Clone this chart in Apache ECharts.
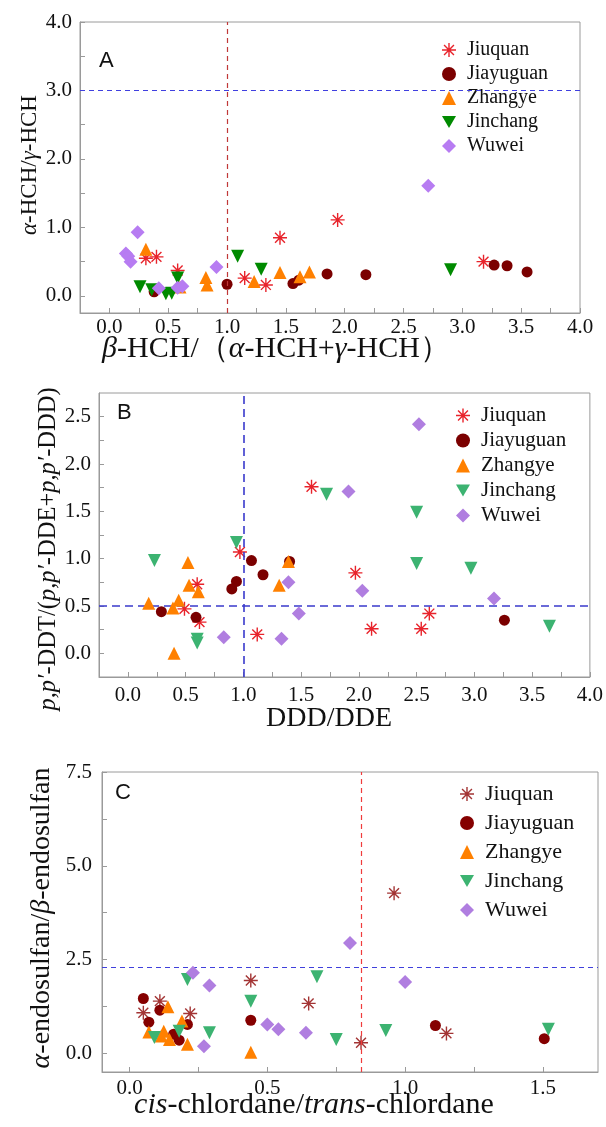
<!DOCTYPE html>
<html><head><meta charset="utf-8">
<script src="https://cdn.jsdelivr.net/npm/echarts@6/dist/echarts.min.js"></script>
<style>html,body{margin:0;padding:0;background:#fff}#c{width:606px;height:1127px}</style>
</head><body><div id="c"></div>
<script>
// ---------- DATA ----------
const siteNames = ['Jiuquan','Jiayuguan','Zhangye','Jinchang','Wuwei'];

// Panel A: x = β-HCH/(α-HCH+γ-HCH), y = α-HCH/γ-HCH
const jiuquanA   = [[0.31,0.55],[0.40,0.57],[0.58,0.37],[1.15,0.26],[1.33,0.16],[1.45,0.85],[1.94,1.11],[3.18,0.50]];
const jiayuguanA = [[0.38,0.06],[1.00,0.17],[1.56,0.18],[1.61,0.23],[1.85,0.32],[2.18,0.31],[3.27,0.45],[3.38,0.44],[3.55,0.35]];
const zhangyeA   = [[0.31,0.68],[0.60,0.13],[0.82,0.27],[0.83,0.16],[1.23,0.21],[1.45,0.34],[1.62,0.28],[1.70,0.35]];
const jinchangA  = [[0.26,0.135],[0.36,0.09],[0.48,0.03],[0.53,0.04],[0.58,0.26],[1.09,0.58],[1.29,0.39],[2.90,0.38]];
const wuweiA     = [[0.24,0.93],[0.14,0.62],[0.16,0.58],[0.18,0.50],[0.42,0.11],[0.58,0.12],[0.62,0.14],[0.91,0.42],[2.71,1.61]];

// Panel B: x = DDD/DDE, y = p,p'-DDT/(p,p'-DDE+p,p'-DDD)
const jiuquanB   = [[0.49,0.47],[0.60,0.73],[0.62,0.33],[0.97,1.07],[1.12,0.20],[1.59,1.76],[1.97,0.85],[2.11,0.26],[2.54,0.26],[2.61,0.42]];
const jiayuguanB = [[0.29,0.44],[0.59,0.38],[0.90,0.68],[0.94,0.76],[1.07,0.98],[1.17,0.83],[1.40,0.97],[3.26,0.35]];
const zhangyeB   = [[0.18,0.53],[0.39,0.48],[0.44,0.56],[0.40,0.00],[0.52,0.96],[0.53,0.72],[0.61,0.65],[1.31,0.72],[1.39,0.97]];
const jinchangB  = [[0.23,0.98],[0.60,0.15],[0.60,0.11],[0.94,1.17],[1.72,1.68],[2.50,1.49],[2.50,0.95],[2.97,0.90],[3.65,0.285]];
const wuweiB     = [[0.83,0.17],[1.33,0.155],[1.39,0.75],[1.48,0.42],[1.91,1.71],[2.03,0.66],[2.52,2.42],[3.17,0.58]];

// Panel C: x = cis-chlordane/trans-chlordane, y = α-endosulfan/β-endosulfan
const jiuquanC   = [[0.05,1.08],[0.11,1.39],[0.22,1.06],[0.44,1.94],[0.65,1.33],[0.84,0.28],[0.96,4.27],[1.15,0.53]];
const jiayuguanC = [[0.05,1.46],[0.07,0.83],[0.11,1.15],[0.16,0.51],[0.18,0.35],[0.21,0.77],[0.44,0.88],[1.11,0.74],[1.505,0.39]];
const zhangyeC   = [[0.07,0.57],[0.115,0.46],[0.124,0.59],[0.139,1.24],[0.145,0.37],[0.19,0.86],[0.21,0.24],[0.44,0.03]];
const jinchangC  = [[0.09,0.42],[0.18,0.59],[0.21,1.97],[0.29,0.55],[0.44,1.39],[0.68,2.04],[0.75,0.37],[0.93,0.61],[1.52,0.64]];
const wuweiC     = [[0.23,2.15],[0.27,0.19],[0.29,1.81],[0.50,0.77],[0.54,0.64],[0.64,0.55],[0.80,2.94],[1.00,1.90]];

// reference (threshold) lines
const refLineA = {x: 1.0, y: 3.0};
const refLineB = {x: 1.0, y: 0.5};
const refLineC = {x: 0.84, y: 2.3};

// axis ticks / labels
const xLabelsAB = [0,0.5,1,1.5,2,2.5,3,3.5,4];
const xTicksAB  = [0,0.25,0.5,0.75,1,1.25,1.5,1.75,2,2.25,2.5,2.75,3,3.25,3.5,3.75,4];
const yLabelsA  = [0,1,2,3,4];
const yTicksA   = [0,0.5,1,1.5,2,2.5,3,3.5,4];
const yLabelsB  = [0,0.5,1,1.5,2,2.5];
const yTicksB   = [0,0.25,0.5,0.75,1,1.25,1.5,1.75,2,2.25,2.5];
const xLabelsC  = [0,0.5,1,1.5];
const xTicksC   = [0,0.25,0.5,0.75,1,1.25,1.5];
const yLabelsC  = [0,2.5,5,7.5];
const yTicksC   = [0,1.25,2.5,3.75,5,6.25,7.5];

// ---------- STYLE ----------
const SERIF = '"Liberation Serif","Times New Roman",serif';
function starPath(){
  let p=''; const L=10,w=1.0;
  for (const a of [0,45,90,135]){
    const r=a*Math.PI/180,c=Math.cos(r),s=Math.sin(r);
    const pts=[[-L,-w],[L,-w],[L,w],[-L,w]].map(([x,y])=>[x*c-y*s,x*s+y*c]);
    p+='M'+pts.map(q=>q[0].toFixed(2)+' '+q[1].toFixed(2)).join(' L')+' Z ';
  }
  p+='M-2 -2 L2 -2 L2 2 L-2 2 Z';
  return 'path://'+p;
}
const STAR = starPath();
const INV_TRI = 'path://M0 0 L10 0 L5 8.66 Z';
const symbols = [STAR,'circle','triangle',INV_TRI,'diamond'];
const sizes = [14,11,13,13,14];
const colorsA = ['#e8232b','#7b0000','#ff8000','#008a00','#b77cf2'];
const colorsB = ['#e8232b','#7b0000','#ff8000','#3cb371','#b07ee0'];
const colorsC = ['#a33434','#850000','#ff8000','#3cb371','#b07ee0'];

const panels = [
  {id:'A', data:[jiuquanA,jiayuguanA,zhangyeA,jinchangA,wuweiA], colors:colorsA, ref:refLineA,
   vColor:'#c03838', hColor:'#4040e0', lw:1.2, dash:[5,4]},
  {id:'B', data:[jiuquanB,jiayuguanB,zhangyeB,jinchangB,wuweiB], colors:colorsB, ref:refLineB,
   vColor:'#3a3acc', hColor:'#3a3acc', lw:1.6, dash:[8,5]},
  {id:'C', data:[jiuquanC,jiayuguanC,zhangyeC,jinchangC,wuweiC], colors:colorsC, ref:refLineC,
   vColor:'#f03c3c', hColor:'#4040dc', lw:1.2, dash:[5,4]}
];

const grids = [
  {left:80, top:22, width:500, height:291},
  {left:99, top:393, width:491, height:284},
  {left:102, top:772, width:496, height:300}
];

const axisCommon = (extra)=>Object.assign({
  type:'value',
  axisLine:{show:true,onZero:false,lineStyle:{color:'#9a9a9a',width:1}},
  splitLine:{show:false},
}, extra);

const fmt = v => v.toFixed(1);
const labelStyle = {color:'#111', fontFamily:SERIF, fontSize:21, formatter:fmt};

const xAxes = [
  axisCommon({gridIndex:0,min:-0.25,max:4,
    axisTick:{inside:true,length:5,lineStyle:{color:'#9a9a9a'},customValues:xTicksAB},
    axisLabel:Object.assign({customValues:xLabelsAB,margin:4},labelStyle)}),
  axisCommon({gridIndex:1,min:-0.25,max:4,
    axisTick:{inside:true,length:5,lineStyle:{color:'#9a9a9a'},customValues:xTicksAB},
    axisLabel:Object.assign({customValues:xLabelsAB,margin:8},labelStyle)}),
  axisCommon({gridIndex:2,min:-0.1,max:1.7,
    axisTick:{inside:true,length:5,lineStyle:{color:'#9a9a9a'},customValues:xTicksC},
    axisLabel:Object.assign({customValues:xLabelsC,margin:6},labelStyle)})
];
const yAxes = [
  axisCommon({gridIndex:0,min:-0.25,max:4,
    axisTick:{inside:true,length:5,lineStyle:{color:'#9a9a9a'},customValues:yTicksA},
    axisLabel:Object.assign({customValues:yLabelsA,margin:8},labelStyle)}),
  axisCommon({gridIndex:1,min:-0.25,max:2.75,
    axisTick:{inside:true,length:5,lineStyle:{color:'#9a9a9a'},customValues:yTicksB},
    axisLabel:Object.assign({customValues:yLabelsB,margin:8},labelStyle)}),
  axisCommon({gridIndex:2,min:-0.5,max:7.5,
    axisTick:{inside:true,length:5,lineStyle:{color:'#9a9a9a'},customValues:yTicksC},
    axisLabel:Object.assign({customValues:yLabelsC,margin:10},labelStyle)})
];

const series = [];
panels.forEach((p,pi)=>{
  p.data.forEach((d,si)=>{
    series.push({
      type:'scatter', name:p.id+':'+siteNames[si], xAxisIndex:pi, yAxisIndex:pi,
      data:d, symbol:symbols[si], symbolSize:sizes[si],
      itemStyle:{color:p.colors[si], opacity:1}, z:3+si
    });
  });
  [['x',p.vColor],['y',p.hColor]].forEach(([k,col])=>{
    series.push({
      type:'line', name:p.id+':ref'+k, xAxisIndex:pi, yAxisIndex:pi, data:[], silent:true, z:2,
      markLine:{silent:true, symbol:['none','none'], label:{show:false}, animation:false,
        lineStyle:{color:col, type:p.dash, width:p.lw, opacity:1},
        emphasis:{disabled:true},
        data:[ k==='x' ? {xAxis:p.ref.x} : {yAxis:p.ref.y} ]}
    });
  });
});

const legendBase = (pi, left, top, gap, fs)=>({
  orient:'vertical', left, top, itemGap:gap, itemWidth:14, itemHeight:14,
  data:siteNames.map(n=>panels[pi].id+':'+n),
  formatter:n=>n.split(':')[1],
  textStyle:{fontFamily:SERIF,fontSize:fs,color:'#111',lineHeight:fs,padding:[0,0,0,6]},
  selectedMode:false
});

function titleText(x,y,text,fs,rot){
  return {type:'text', x, y, rotation:rot?Math.PI/2:0, silent:true,
    style:{text, fontFamily:SERIF, fontSize:fs, fill:'#111', align:'center', verticalAlign:'middle',
      rich:{i:{fontStyle:'italic',fontFamily:SERIF,fontSize:fs,fill:'#111'}, n:{fontFamily:SERIF,fontSize:fs,fill:'#111'}}}};
}

const option = {
  animation:false,
  backgroundColor:'#fff',
  grid: grids.map(g=>Object.assign({show:true,borderColor:'#9a9a9a',borderWidth:1,containLabel:false},g)),
  xAxis:xAxes, yAxis:yAxes, series,
  legend:[
    legendBase(0, 437, 35, 4, 20),
    legendBase(1, 451, 400, 4, 21),
    legendBase(2, 455, 778, 7, 22)
  ],
  title:[
    {text:'A', left:94, top:45, textStyle:{fontFamily:'"Liberation Sans",Arial,sans-serif',fontSize:22,fontWeight:'normal',color:'#111'}},
    {text:'B', left:112, top:397, textStyle:{fontFamily:'"Liberation Sans",Arial,sans-serif',fontSize:22,fontWeight:'normal',color:'#111'}},
    {text:'C', left:110, top:777, textStyle:{fontFamily:'"Liberation Sans",Arial,sans-serif',fontSize:22,fontWeight:'normal',color:'#111'}}
  ],
  graphic:[
    titleText(30,165,'{i|α}{n|-HCH/}{i|γ}{n|-HCH}',23,true),
    titleText(276,349,'{i|β}{n|-HCH/（}{i|α}{n|-HCH+}{i|γ}{n|-HCH）}',30,false),
    titleText(49,549,"{i|p,p′}{n|-DDT/(}{i|p,p′}{n|-DDE+}{i|p,p′}{n|-DDD)}",24.5,true),
    titleText(329,719,'{n|DDD/DDE}',28,false),
    titleText(42,918,'{i|α}{n|-endosulfan/}{i|β}{n|-endosulfan}',28,true),
    titleText(314,1105,'{i|cis}{n|-chlordane/}{i|trans}{n|-chlordane}',30,false)
  ]
};
const chart = echarts.init(document.getElementById('c'),null,{renderer:'canvas'});
chart.setOption(option);
</script></body></html>
